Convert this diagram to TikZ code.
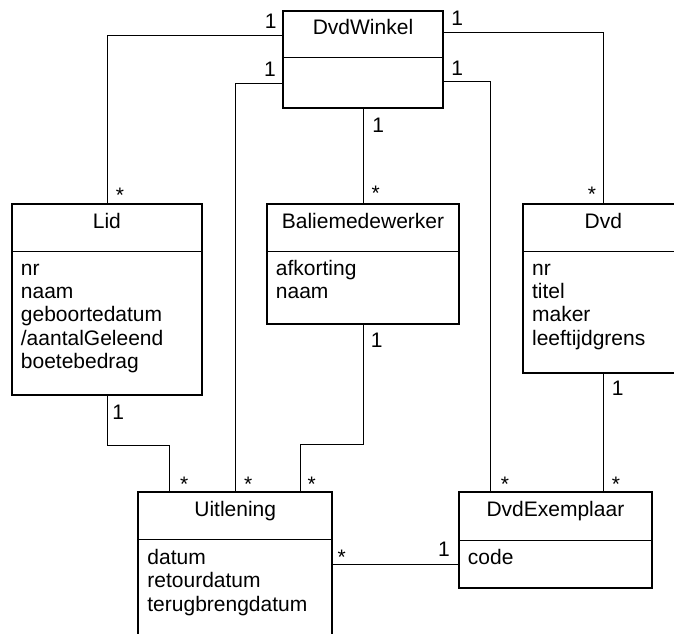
\documentclass[tikz,border=0pt]{standalone}
\usepackage{fontspec}
\setmainfont{Liberation Sans}

\begin{document}
\begin{tikzpicture}[
  x=1pt, y=-1pt,
  font=\fontsize{21}{23.3}\selectfont,
  cls/.style={draw, line width=1.8pt, inner sep=0pt},
  divider/.style={line width=0.8pt},
  assoc/.style={line width=0.8pt},
  title/.style={anchor=base, inner sep=0pt},
  attrs/.style={anchor=base west, align=left, inner sep=0pt},
  mult/.style={anchor=base, inner sep=0pt}
]

\useasboundingbox (0,0) rectangle (674,633);
\clip (0,0) rectangle (674,633);

% classes
\node[cls, minimum width=160.6pt, minimum height=97.6pt] (win) at (363,59.5) {};
\node[cls, minimum width=189.7pt, minimum height=191pt] (lid) at (106.9,299.5) {};
\node[cls, minimum width=192.6pt, minimum height=119.7pt] (bal) at (363,263.9) {};
\node[cls, minimum width=160pt, minimum height=168.7pt] (dvd) at (603.3,288.4) {};
\node[cls, minimum width=193.7pt, minimum height=167.7pt] (uit) at (235.2,576.2) {};
\node[cls, minimum width=192.7pt, minimum height=96pt] (dvdex) at (555.4,540.3) {};

\draw[divider] ([yshift=-48pt]win.north west) -- ([yshift=-48pt]win.north east);
\draw[divider] ([yshift=-48.3pt]lid.north west) -- ([yshift=-48.3pt]lid.north east);
\draw[divider] ([yshift=-48.3pt]bal.north west) -- ([yshift=-48.3pt]bal.north east);
\draw[divider] ([yshift=-48.3pt]dvd.north west) -- ([yshift=-48.3pt]dvd.north east);
\draw[divider] ([yshift=-48.4pt]uit.north west) -- ([yshift=-48.4pt]uit.north east);
\draw[divider] ([yshift=-48.7pt]dvdex.north west) -- ([yshift=-48.7pt]dvdex.north east);

\node[title] (win-t) at (363,34) {DvdWinkel};
\node[title] (lid-t) at (106.9,228.3) {Lid};
\node[title] (bal-t) at (363,228.3) {Baliemedewerker};
\node[title] (dvd-t) at (603.3,228.3) {Dvd};
\node[title] (uit-t) at (235.2,516.6) {Uitlening};
\node[title] (dvdex-t) at (555.4,516.6) {DvdExemplaar};

% base of a list = baseline of its last line
\node[attrs] (lid-a) at (20.7,368.5) {nr\\naam\\geboortedatum\\/aantalGeleend\\boetebedrag};
\node[attrs] (bal-a) at (275.7,298.6) {afkorting\\naam};
\node[attrs] (dvd-a) at (531.9,345.2) {nr\\titel\\maker\\leeftijdgrens};
\node[attrs] (uit-a) at (147.2,611.1) {datum\\retourdatum\\terugbrengdatum};
\node[attrs] (dvdex-a) at (467.7,564.3) {code};

% associations
\draw[assoc] ([yshift=-25.3pt]win.north west) -| (lid.north);
\draw[assoc] ([yshift=-22.6pt]win.north east) -| (dvd.north);
\draw[assoc] ([yshift=-73.6pt]win.north west) -| (uit.north);
\draw[assoc] ([yshift=-72pt]win.north east) -| ([xshift=32.5pt]dvdex.north west);
\draw[assoc] (win.south) -- (bal.north);
\draw[assoc] (lid.south) -- ++(0,49.3) -| ([xshift=32.4pt]uit.north west);
\draw[assoc] (bal.south) -- ++(0,120) -| ([xshift=-33pt]uit.north east);
\draw[assoc] (dvd.south) -- (dvd.south |- dvdex.north);
\draw[assoc] (uit.east |- dvdex-a.base) -- (dvdex.west |- dvdex-a.base);

% multiplicities
\node[mult] (m-win-lid) at (270.7,28) {1};
\node[mult] (m-win-dvd) at (457.3,25) {1};
\node[mult] (m-win-uit) at (270,76.7) {1};
\node[mult] (m-win-dvdex) at (457.3,75) {1};
\node[mult] (m-win-bal) at (378.3,132.7) {1};
\node[mult] (m-bal-uit) at (376.7,347.3) {1};
\node[mult] (m-dvd-dvdex) at (617.7,395) {1};
\node[mult] (m-lid-uit) at (118.3,419.3) {1};
\node[mult] (m-dvdex-uit) at (444,556.7) {1};

\node[mult] (m-lid) at (120,202.5) {*};
\node[mult] (m-bal) at (375.7,200.5) {*};
\node[mult] (m-dvd) at (592,201) {*};
\node[mult] (m-uit-lid) at (184.3,491.5) {*};
\node[mult] (m-uit-win) at (248.3,491.5) {*};
\node[mult] (m-uit-bal) at (311.7,491.5) {*};
\node[mult] (m-dvdex-win) at (505,491.5) {*};
\node[mult] (m-dvdex-dvd) at (616,491.5) {*};
\node[mult] (m-uit-dvdex) at (341.7,564) {*};

\end{tikzpicture}
\end{document}
